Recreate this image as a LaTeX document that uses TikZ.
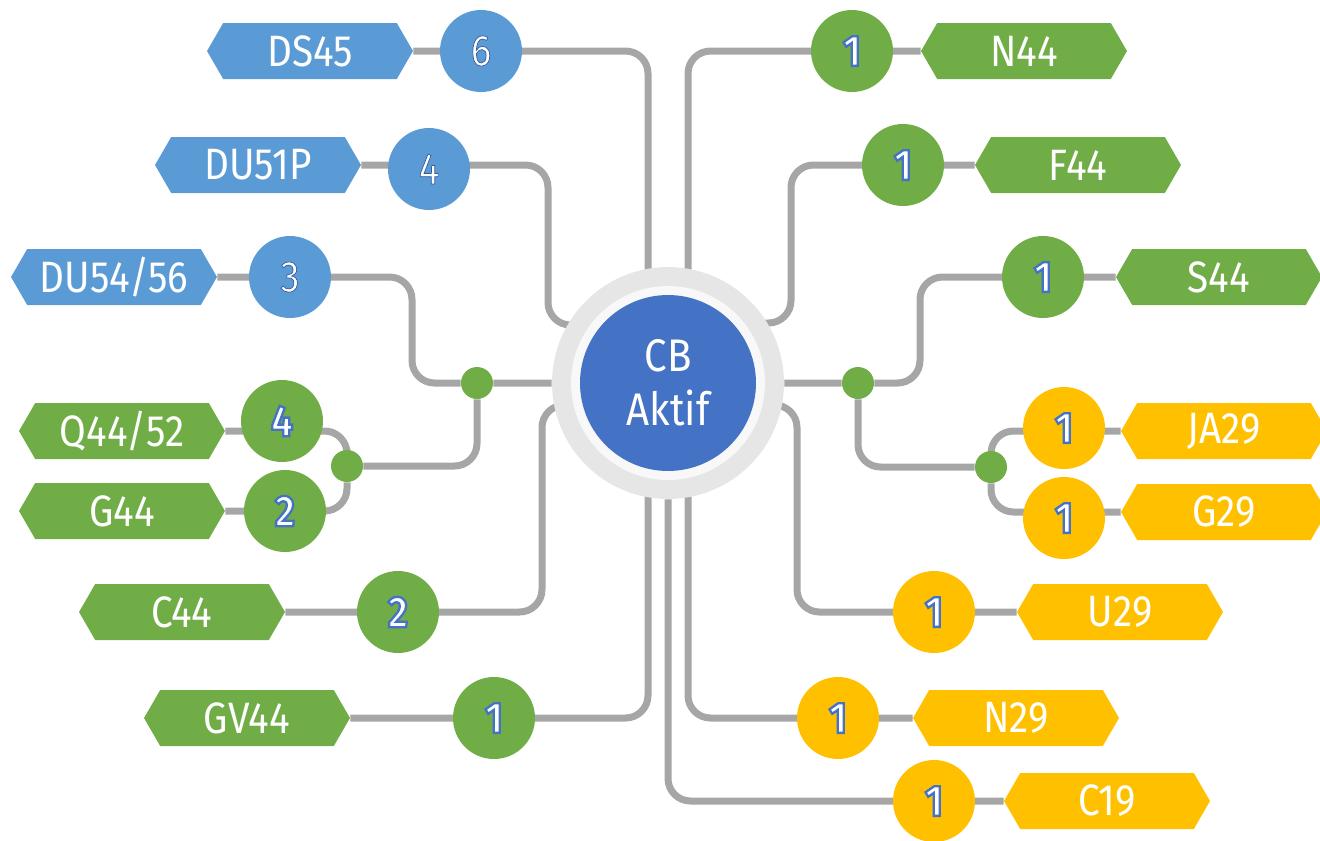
\documentclass[tikz,border=0pt]{standalone}
\usepackage{fontspec}
\setmainfont[FakeStretch=0.88]{Fira Sans}
\usetikzlibrary{shapes.symbols,calc}
\pgfdeclarelayer{bg}
\pgfsetlayers{bg,main}

\definecolor{dsblue}{HTML}{5B9BD5}
\definecolor{grn}{HTML}{70AD47}
\definecolor{gold}{HTML}{FFC000}
\definecolor{cbblue}{HTML}{4472C4}
\definecolor{wire}{HTML}{A6A6A6}
\definecolor{ring}{HTML}{E7E6E6}
\definecolor{ringin}{HTML}{F8F8F8}

\newcommand{\tagfont}{\fontsize{25}{30}\selectfont}
% digits: white fill with a stroked outline
\newcommand{\nb}[1]{\special{pdf:literal direct q 2 Tr 0.20 0.35 0.62 RG 0.4 w}#1\special{pdf:literal direct Q}}
\newcommand{\no}[1]{{\bfseries\special{pdf:literal direct q 2 Tr 0.267 0.447 0.769 RG 1.3 w}#1\special{pdf:literal direct Q}}}

\tikzset{
  tag/.style={signal, signal to=west and east, signal pointer angle=120,
    minimum width=4.12cm, minimum height=1.12cm, inner sep=0pt,
    text=white, font=\tagfont, fill=#1},
  cnt/.style={circle, minimum size=1.64cm, inner sep=0pt,
    text=white, font=\tagfont, fill=#1},
  jdot/.style={circle, minimum size=0.64cm, inner sep=0pt, fill=grn},
  link/.style={draw=wire, line width=0.14cm, rounded corners=0.45cm}
}

\begin{document}
\begin{tikzpicture}[x=0.02cm,y=-0.02cm]
	\useasboundingbox (0,0) rectangle (1320,840);
	% hub
	\node[circle, minimum size=4.64cm, fill=ring] (cb) at (668,383) {};
	\node[circle, minimum size=3.88cm, fill=ringin] (cbin) at (cb) {};
	\node[circle, minimum size=3.52cm, fill=cbblue, text=white, align=center,
	  font=\fontsize{26}{31}\selectfont] (hub) at (cb) {CB\\Aktif};
	% left side
	\node[tag=dsblue] (tDS) at (310,51) {DS45};
	\node[cnt=dsblue] (cDS) at (481,51) {\nb{6}};
	\node[tag=dsblue] (tDU) at (258,165) {DU51P};
	\node[cnt=dsblue] (cDU) at (429,169) {\nb{4}};
	\node[tag=dsblue] (tDUb) at (114,277) {DU54/56};
	\node[cnt=dsblue] (cDUb) at (290,277) {\nb{3}};
	\node[jdot] (jL) at (477,383) {};
	\node[tag=grn] (tQ) at (122,431) {Q44/52};
	\node[cnt=grn] (cQ) at (282,421) {\no{4}};
	\node[tag=grn] (tG) at (122,511) {G44};
	\node[cnt=grn] (cG) at (285,511) {\no{2}};
	\node[jdot] (jQ) at (347,466) {};
	\node[tag=grn] (tC) at (182,612) {C44};
	\node[cnt=grn] (cC) at (398,612) {\no{2}};
	\node[tag=grn] (tGV) at (247,718) {GV44};
	\node[cnt=grn] (cGV) at (494,718) {\no{1}};
	% right side
	\node[tag=grn] (tN) at (1024,51) {N44};
	\node[cnt=grn] (cN) at (852,51) {\no{1}};
	\node[tag=grn] (tF) at (1078,165) {F44};
	\node[cnt=grn] (cF) at (903,165) {\no{1}};
	\node[tag=grn] (tS) at (1219,277) {S44};
	\node[cnt=grn] (cS) at (1043,277) {\no{1}};
	\node[jdot] (jR) at (858,383) {};
	\node[tag=gold] (tJA) at (1224,431) {JA29};
	\node[cnt=gold] (cJA) at (1064,428) {\no{1}};
	\node[tag=gold] (tG29) at (1224,512) {G29};
	\node[cnt=gold] (cG29) at (1064,518) {\no{1}};
	\node[jdot] (jJ) at (991,467) {};
	\node[tag=gold] (tU) at (1120,612) {U29};
	\node[cnt=gold] (cU) at (934,612) {\no{1}};
	\node[tag=gold] (tN29) at (1016,718) {N29};
	\node[cnt=gold] (cN29) at (838,718) {\no{1}};
	\node[tag=gold] (tC19) at (1107,801) {C19};
	\node[cnt=gold] (cC19) at (934,801) {\no{1}};
	% connectors
	\begin{pgfonlayer}{bg}
	\draw[link] (tDS) -| ($(cb)+(-20,0)$);
	\draw[link] (tDU) -| ($(cb)+(-120,-58)$) -- ($(cb)+(0,-58)$);
	\draw[link] (tDUb) -| ($(jL)+(-65,0)$) -- (jL) -- (cb);
	\draw[link] (jL) |- (jQ);
	\draw[link] (tQ) -| (jQ) |- (tG);
	\draw[link] (tC) -| ($(cb)+(-126,22)$) -- ($(cb)+(0,22)$);
	\draw[link] (tGV) -| ($(cb)+(-20,0)$);
	\draw[link] (tN) -| ($(cb)+(20,0)$);
	\draw[link] (tF) -| ($(cb)+(123,-60)$) -- ($(cb)+(0,-60)$);
	\draw[link] (tS) -| ($(jR)+(62,0)$) -- (jR) -- (cb);
	\draw[link] (jR) |- (jJ);
	\draw[link] (tJA) -| (jJ) |- (tG29);
	\draw[link] (tU) -| ($(cb)+(129,22)$) -- ($(cb)+(0,22)$);
	\draw[link] (tN29) -| ($(cb)+(20,0)$);
	\draw[link] (tC19) -| (cb);
	\end{pgfonlayer}
\end{tikzpicture}
\end{document}
